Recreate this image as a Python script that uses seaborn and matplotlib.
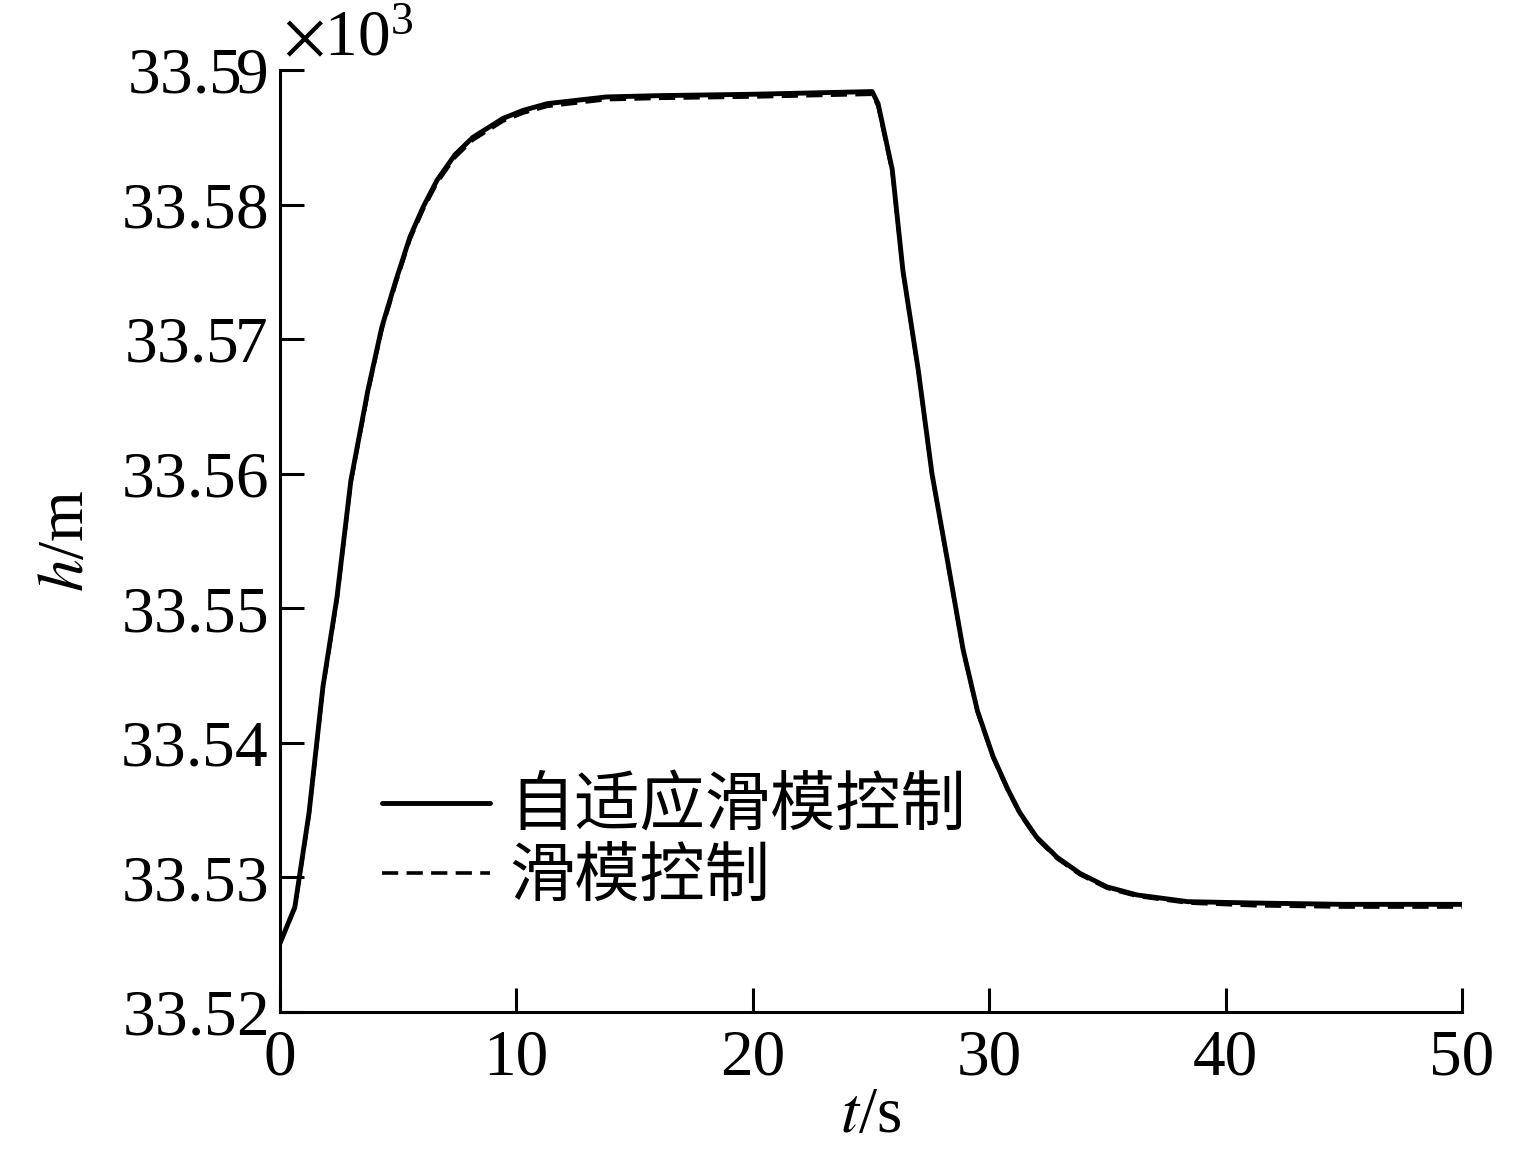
import matplotlib
matplotlib.use('Agg')
import matplotlib.pyplot as plt
import seaborn as sns
import pandas as pd
from matplotlib.ticker import ScalarFormatter

# 时间 t (s)
t = [0, 0.63, 1.23, 1.82, 2.41, 3.0, 3.72, 4.31, 4.91, 5.5, 6.05, 6.64, 7.4, 8.16,
     9.43, 10.28, 11.3, 13.8, 16.1, 20, 25.05, 25.3, 25.9, 26.35, 27.0, 27.58, 28.26,
     28.9, 29.5, 30.16, 30.8, 31.3, 32.0, 32.87, 33.84, 34.98, 36.25, 38.4, 41.2, 45, 50]

# 高度 h (m), 自适应滑模控制
h_adaptive = [33525.1, 33527.8, 33534.8, 33544.2, 33550.8, 33559.5, 33566.2, 33570.9,
              33574.4, 33577.6, 33579.8, 33581.8, 33583.7, 33585.0, 33586.4, 33587.0,
              33587.5, 33588.0, 33588.1, 33588.2, 33588.4, 33587.5, 33582.6, 33575.1,
              33567.7, 33560.0, 33553.3, 33546.9, 33542.4, 33539.0, 33536.5, 33534.8,
              33533.0, 33531.5, 33530.3, 33529.3, 33528.7, 33528.2, 33528.1, 33528.0,
              33528.0]

# 高度 h (m), 滑模控制
h_smc = [33525.1, 33527.7, 33534.6, 33544.0, 33550.6, 33559.3, 33566.0, 33570.7,
         33574.2, 33577.4, 33579.6, 33581.6, 33583.5, 33584.8, 33586.2, 33586.8,
         33587.3, 33587.8, 33587.9, 33588.0, 33588.2, 33587.3, 33582.4, 33575.0,
         33567.6, 33559.9, 33553.2, 33546.8, 33542.3, 33538.9, 33536.4, 33534.7,
         33532.9, 33531.4, 33530.2, 33529.2, 33528.6, 33528.1, 33527.9, 33527.8,
         33527.8]

labels = ['自适应滑模控制', '滑模控制']

df = pd.concat([
    pd.DataFrame({'t': t, 'h': h_adaptive, 'method': labels[0]}),
    pd.DataFrame({'t': t, 'h': h_smc, 'method': labels[1]}),
])

sns.set_theme(style='ticks')
plt.rcParams['font.family'] = ['Liberation Serif', 'Noto Sans CJK SC']
plt.rcParams['mathtext.fontset'] = 'stix'
plt.rcParams['text.color'] = 'black'
plt.rcParams['axes.labelcolor'] = 'black'
fs = 47

fig = plt.figure(figsize=(15.29, 11.5), dpi=100)
ax = fig.add_axes([0.1831, 0.12, 0.9562 - 0.1831, 0.9391 - 0.12])

sns.lineplot(data=df[df['method'] == labels[1]], x='t', y='h', color='black',
             lw=2.6, ls=(0, (4.5, 2.3)), ax=ax, label=labels[1])
sns.lineplot(data=df[df['method'] == labels[0]], x='t', y='h', color='black',
             lw=3.5, ax=ax, label=labels[0])

ax.set_xlim(0, 50)
ax.set_ylim(33520, 33590)
ax.set_xticks([0, 10, 20, 30, 40, 50])
ax.set_yticks(range(33520, 33591, 10))

# 纵轴以 ×10^3 显示
fmt = ScalarFormatter(useMathText=True, useOffset=False)
fmt.set_powerlimits((3, 3))
ax.yaxis.set_major_formatter(fmt)
ax.yaxis.get_offset_text().set_visible(False)
fig.text(283 / 1529, 1 - 55 / 1150, r'$\times\mathdefault{10^{3}}$',
         fontsize=fs, ha='left', va='baseline', color='black')

ax.tick_params(direction='in', length=17, width=2.2, labelsize=fs, colors='black')
ax.tick_params(axis='x', pad=12)
ax.tick_params(axis='y', pad=9)
sns.despine(ax=ax)
for s in ['left', 'bottom']:
    ax.spines[s].set_linewidth(2.2)
    ax.spines[s].set_color('black')

ax.set_xlabel(r'$\mathit{t}$/s', fontsize=fs, labelpad=-1)
ax.set_ylabel(r'$\mathit{h}$/m', fontsize=fs, labelpad=16)

handles, lbls = ax.get_legend_handles_labels()
order = [lbls.index(labels[0]), lbls.index(labels[1])]
leg = ax.legend([handles[i] for i in order], [lbls[i] for i in order],
                loc='center left', bbox_to_anchor=(0.086, 0.178), frameon=False,
                fontsize=fs, handlelength=1.66, handletextpad=0.3, labelspacing=0.15,
                borderpad=0, borderaxespad=0)
for txt in leg.get_texts():
    txt.set_color('black')

fig.savefig('out.png', dpi=100, facecolor='white')
